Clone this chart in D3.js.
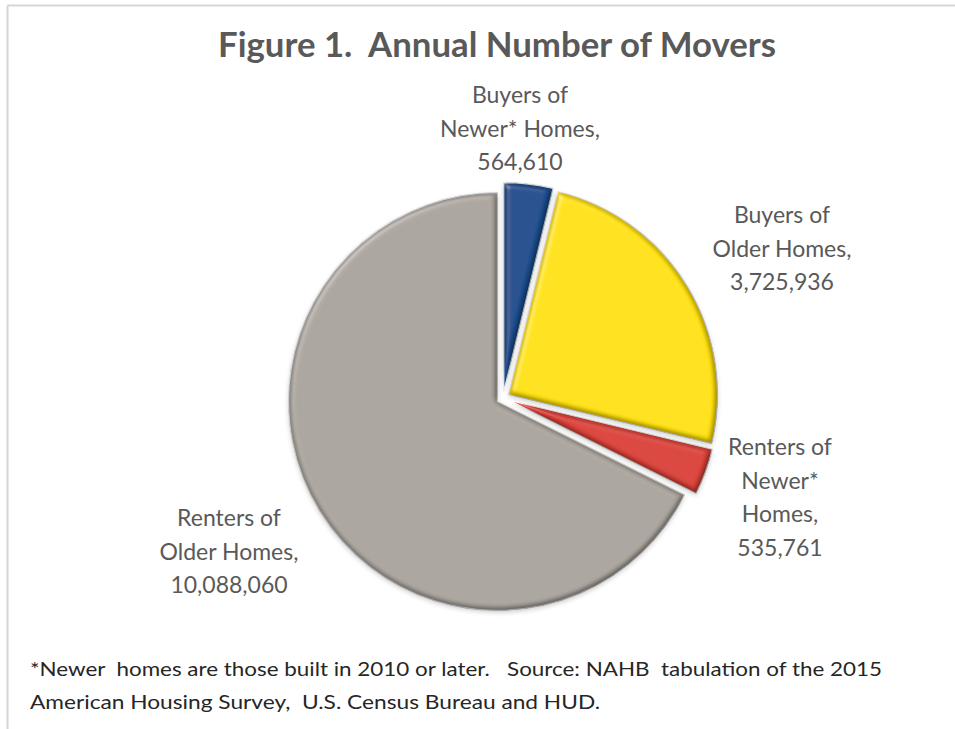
<!DOCTYPE html>
<html>
<head>
<meta charset="utf-8">
<script src="https://cdn.jsdelivr.net/npm/d3@7"></script>
<style>
  html, body { margin: 0; padding: 0; background: #fff; }
  svg { display: block; }
  text { font-family: Lato, "Open Sans", sans-serif; white-space: pre; }
</style>
</head>
<body>
<svg id="chart" width="955" height="729"></svg>
<script>
// Movers by tenure and age of home
const categories = [
  "Buyers of Newer* Homes",
  "Buyers of Older Homes",
  "Renters of Newer* Homes",
  "Renters of Older Homes"
];
const values = [564610, 3725936, 535761, 10088060];
const labelLines = [
  ["Buyers of", "Newer* Homes,", "564,610"],
  ["Buyers of", "Older Homes,", "3,725,936"],
  ["Renters of", "Newer*", "Homes,", "535,761"],
  ["Renters of", "Older Homes,", "10,088,060"]
];
const colors = ["#1b4d8d", "#ffe10a", "#d9433a", "#aba59e"];

const titleText = "Figure 1.  Annual Number of Movers";
const noteLines = [
  "*Newer  homes are those built in 2010 or later.   Source: NAHB  tabulation of the 2015",
  "American Housing Survey,  U.S. Census Bureau and HUD."
];

// Layout
const W = 955, H = 729;
const cx = 503, cy = 398, R = 209, explode = 6.5;
const labelPos = [[520, 103], [782, 223], [780, 455], [229, 526]];
const lineH = 33.5;
const noteWidths = [852, 570];

const svg = d3.select("#chart");

// Chart frame (top and left edges visible)
svg.append("line").attr("x1", 7.5).attr("x2", W).attr("y1", 5.5).attr("y2", 5.5)
  .attr("stroke", "#d6d6d6").attr("stroke-width", 2);
svg.append("line").attr("x1", 7.5).attr("x2", 7.5).attr("y1", 5.5).attr("y2", H)
  .attr("stroke", "#d6d6d6").attr("stroke-width", 2);

// Bevel filter: darkened rims from a blurred alpha height map
const defs = svg.append("defs");
const f = defs.append("filter").attr("id", "bevel")
  .attr("x", "-10%").attr("y", "-10%").attr("width", "120%").attr("height", "120%");
f.append("feGaussianBlur").attr("in", "SourceAlpha").attr("stdDeviation", 3.4).attr("result", "blur");
f.append("feDiffuseLighting").attr("in", "blur").attr("surfaceScale", 7)
  .attr("diffuseConstant", 1).attr("lighting-color", "#fff").attr("result", "diff")
  .append("feDistantLight").attr("azimuth", 235).attr("elevation", 78);
f.append("feComposite").attr("in", "SourceGraphic").attr("in2", "diff")
  .attr("operator", "arithmetic").attr("k1", 1.03).attr("k2", 0).attr("k3", 0).attr("k4", 0)
  .attr("result", "shaded");
f.append("feSpecularLighting").attr("in", "blur").attr("surfaceScale", 5)
  .attr("specularConstant", 0.3).attr("specularExponent", 22)
  .attr("lighting-color", "#fff").attr("result", "spec")
  .append("feDistantLight").attr("azimuth", 225).attr("elevation", 35);
f.append("feComposite").attr("in", "spec").attr("in2", "SourceAlpha").attr("operator", "in").attr("result", "specIn");
f.append("feComposite").attr("in", "shaded").attr("in2", "specIn")
  .attr("operator", "arithmetic").attr("k1", 0).attr("k2", 1).attr("k3", 0.6).attr("k4", 0)
  .attr("result", "lit");
f.append("feComposite").attr("in", "lit").attr("in2", "SourceAlpha").attr("operator", "in");

// Soft shadow under the pie
const sh = defs.append("filter").attr("id", "shadow")
  .attr("x", "-20%").attr("y", "-20%").attr("width", "140%").attr("height", "140%");
sh.append("feGaussianBlur").attr("in", "SourceAlpha").attr("stdDeviation", 2.5);

const data = categories.map((c, i) => ({ name: c, value: values[i], color: colors[i], lines: labelLines[i] }));

const pie = d3.pie().sort(null).value(d => d.value).startAngle(0).endAngle(2 * Math.PI);
const arc = d3.arc().innerRadius(0).outerRadius(R);
const arcs = pie(data);

const g = svg.append("g").attr("transform", `translate(${cx},${cy})`);

const slice = g.selectAll("g.slice").data(arcs).join("g")
  .attr("class", "slice")
  .attr("transform", d => {
    const m = (d.startAngle + d.endAngle) / 2;
    return `translate(${Math.sin(m) * explode},${-Math.cos(m) * explode})`;
  });

slice.append("path")
  .attr("d", arc)
  .attr("fill", "#000")
  .attr("opacity", 0.2)
  .attr("transform", "translate(0,2)")
  .attr("filter", "url(#shadow)");

slice.append("path")
  .attr("d", arc)
  .attr("fill", d => d.data.color)
  .attr("stroke", "#ffffff")
  .attr("stroke-width", 1.2)
  .attr("filter", "url(#bevel)");

// Data labels
const lab = svg.append("g").selectAll("text").data(arcs).join("text")
  .attr("text-anchor", "middle")
  .attr("fill", "#595959")
  .attr("font-size", 23)
  .attr("x", (d, i) => labelPos[i][0])
  .attr("y", (d, i) => labelPos[i][1]);
lab.selectAll("tspan").data(d => d.data.lines).join("tspan")
  .attr("x", function () { return d3.select(this.parentNode).attr("x"); })
  .attr("dy", (d, i) => i === 0 ? 0 : lineH)
  .text(d => d);

// Title
svg.append("text")
  .attr("x", 497).attr("y", 57)
  .attr("text-anchor", "middle")
  .attr("fill", "#595959")
  .attr("font-size", 34)
  .attr("font-weight", "bold")
  .attr("textLength", 558)
  .attr("lengthAdjust", "spacingAndGlyphs")
  .text(titleText);

// Footnote
svg.append("g").selectAll("text").data(noteLines).join("text")
  .attr("x", 30)
  .attr("y", (d, i) => 676 + i * 33)
  .attr("fill", "#262626")
  .attr("font-size", 20)
  .attr("textLength", (d, i) => noteWidths[i])
  .attr("lengthAdjust", "spacingAndGlyphs")
  .text(d => d);
</script>
</body>
</html>
